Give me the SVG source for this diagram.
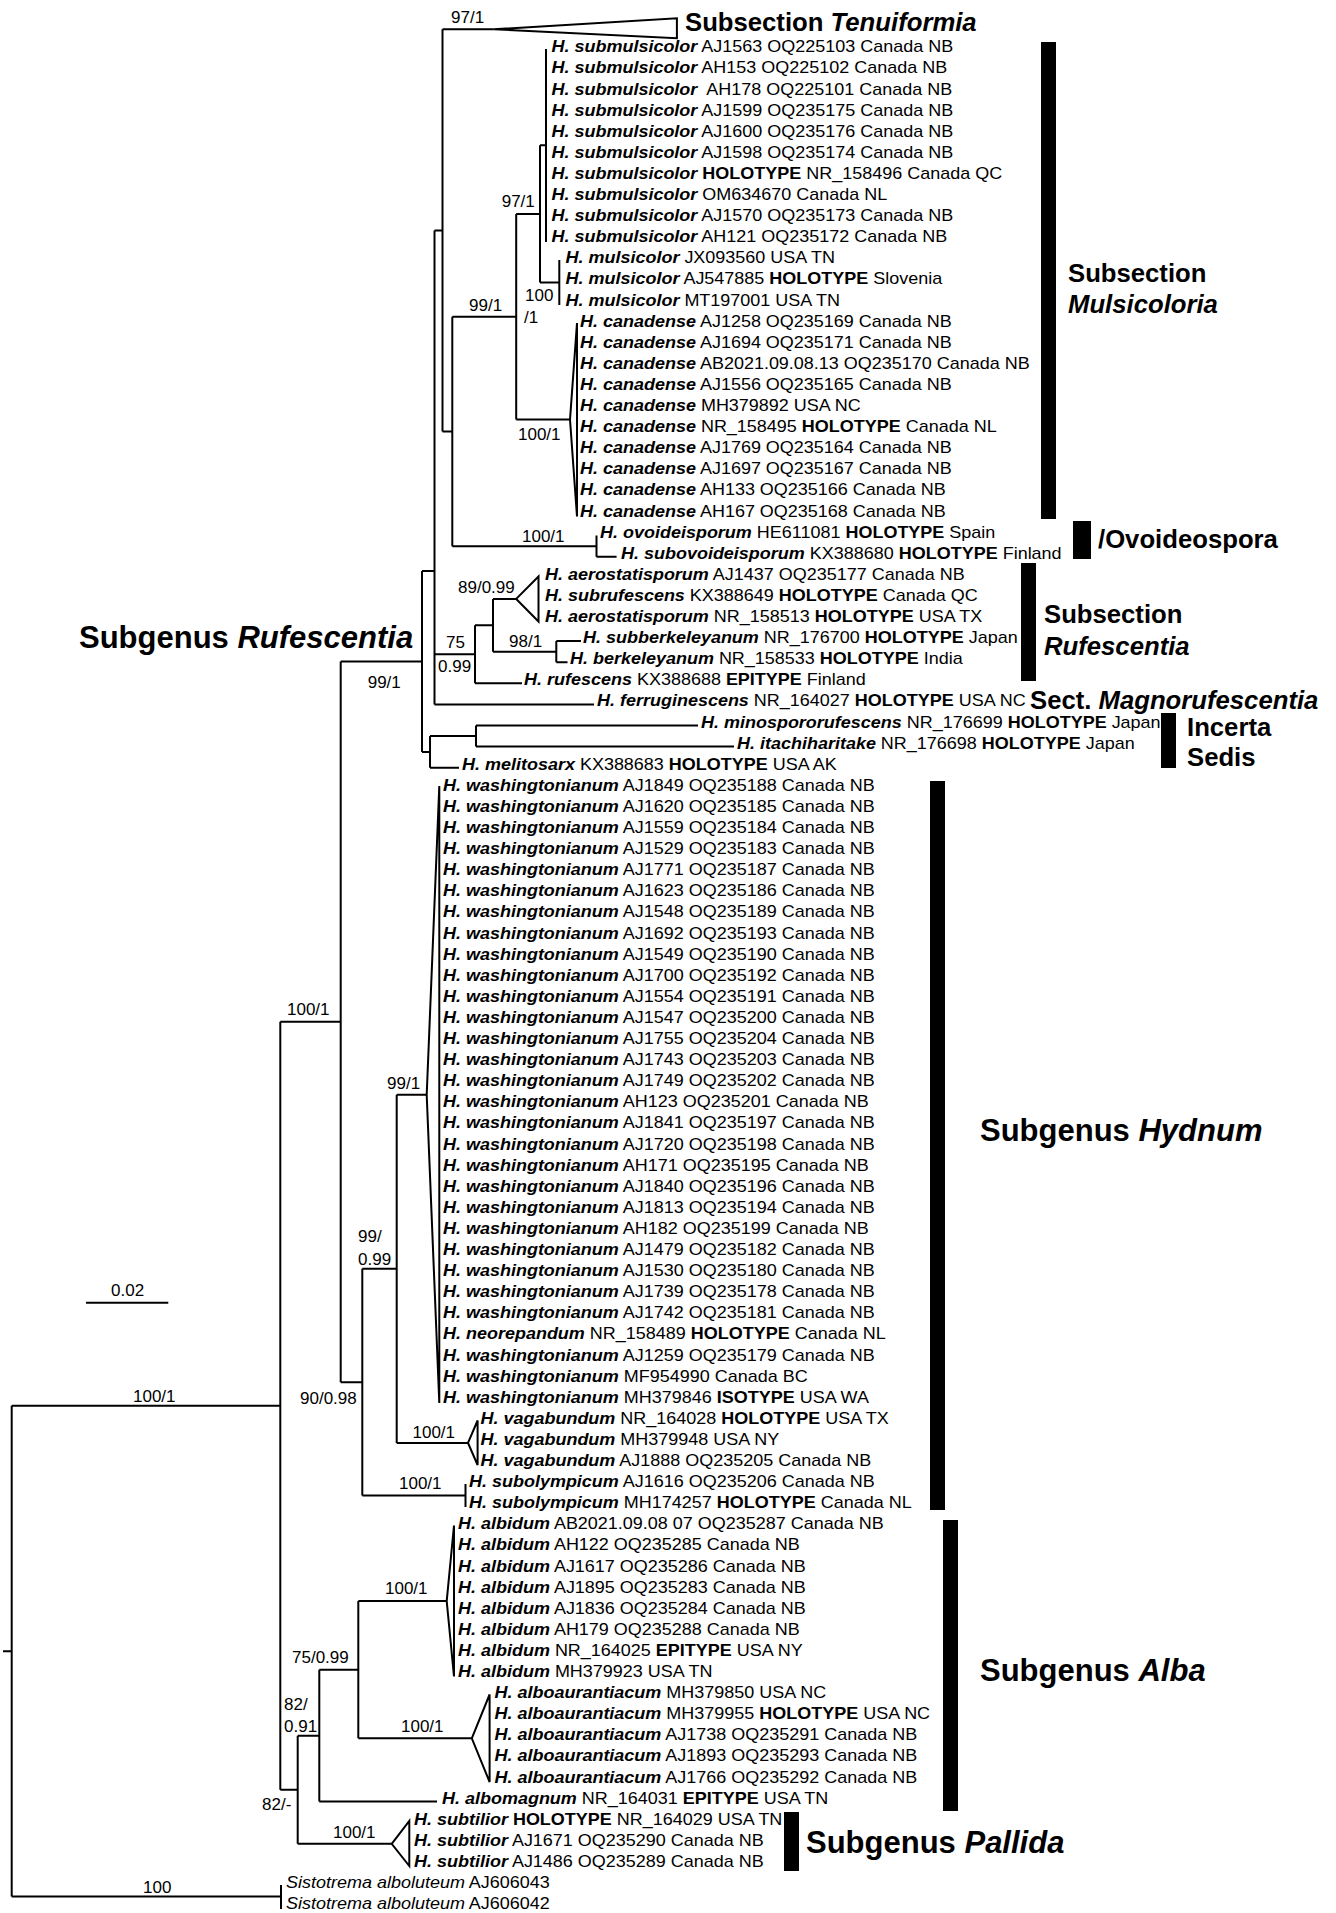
<svg xmlns="http://www.w3.org/2000/svg" width="1336" height="1913" viewBox="0 0 1336 1913">
<style>
text{font-family:"Liberation Sans",Arial,sans-serif;fill:#000}
.t{font-size:16.2px}
.b{font-weight:bold;font-style:italic}
.k{font-weight:bold}
.i{font-style:italic}
.s{font-size:17px}
.L{font-size:25.7px;font-weight:bold}
.G{font-size:31px;font-weight:bold}
.e path,.e polygon{stroke:#000;stroke-width:2;fill:none}
.e polygon{fill:#fff}
.bar{fill:#000}
</style>
<rect width="1336" height="1913" fill="#fff"/>
<g id="connectors" class="e">
<path d="M3,1651.2H11.7M11.7,1405.8V1896.5M11.7,1405.8H280.3M11.7,1896.5H281M281,1885V1909"/>
<path d="M280.3,1021.8V1789.8M280.3,1021.8H340.7M280.3,1789.8H297.7"/>
<path d="M340.7,661.4V1382.2M340.7,661.4H422M340.7,1382.2H362.3"/>
<path d="M422,571V751.9M422,571H434.5M422,751.9H430"/>
<path d="M434.5,230.4V704.4M434.5,230.4H442.5M434.5,654.3H475M434.5,704.4H594"/>
<path d="M442.5,29.3V431.5M442.5,29.3H493.8M442.5,431.5H452.3"/>
<polygon points="493.8,29.3 676.9,18.3 676.9,38.3"/>
<path d="M452.3,316.8V546.2M452.3,316.8H516.2M452.3,546.2H596.5M596.5,535.6V556.7M596.5,556.7H616.6"/>
<path d="M516.2,213.9V419.6M516.2,213.9H540M516.2,419.6H570"/>
<polygon points="570,419.6 577,323 577,516.5"/>
<path d="M540,145.3V282.4M540,145.3H546M540,282.4H559.3M546,49V242M559.3,260V305"/>
<path d="M475,625.3V683.3M475,625.3H493M475,683.3H522M493,598.9V651.7M493,598.9H516.2M493,651.7H556.3M556.3,641.1V662.2M556.3,641.1H581M556.3,662.2H567.5"/>
<polygon points="516.2,598.9 538.5,576.5 538.5,621.5"/>
<path d="M430,736V767.7M430,736H476M430,767.7H459M476,725.5V746.6M476,725.5H698M476,746.6H734"/>
<path d="M362.3,1268.8V1495.6M362.3,1268.8H396.7M362.3,1495.6H465.5M465.5,1484V1507"/>
<path d="M396.7,1094.75V1442.9M396.7,1094.75H426.7M396.7,1442.9H468"/>
<polygon points="426.7,1094.75 439.3,786 439.3,1403"/>
<polygon points="468,1442.9 477.6,1420.5 477.6,1465"/>
<path d="M297.7,1735.7V1843.8M297.7,1735.7H319.3M297.7,1843.8H391.7"/>
<polygon points="391.7,1843.8 409.3,1821 409.3,1866"/>
<path d="M319.3,1669.7V1801.6M319.3,1669.7H358.3M319.3,1801.6H437"/>
<path d="M358.3,1601.1V1738.3M358.3,1601.1H446.7M358.3,1738.3H471.8"/>
<polygon points="446.7,1601.1 454,1525.5 454,1676.5"/>
<polygon points="471.8,1738.3 489.6,1694.5 489.6,1782"/>
<path d="M86,1302.8H168.3"/>
</g>
<g id="support-values" class="s">
<text class="s" x="451" y="23">97/1</text>
<text class="s" x="501.7" y="207">97/1</text>
<text class="s" x="525" y="301">100</text>
<text class="s" x="524" y="323">/1</text>
<text class="s" x="469" y="311">99/1</text>
<text class="s" x="518" y="440">100/1</text>
<text class="s" x="522" y="542">100/1</text>
<text class="s" x="458" y="593">89/0.99</text>
<text class="s" x="446" y="648">75</text>
<text class="s" x="438" y="672">0.99</text>
<text class="s" x="509" y="647">98/1</text>
<text class="s" x="367.7" y="688">99/1</text>
<text class="s" x="287" y="1015">100/1</text>
<text class="s" x="387" y="1089">99/1</text>
<text class="s" x="358" y="1242">99/</text>
<text class="s" x="358" y="1265">0.99</text>
<text class="s" x="300" y="1404">90/0.98</text>
<text class="s" x="133" y="1402">100/1</text>
<text class="s" x="412.5" y="1438">100/1</text>
<text class="s" x="399" y="1489">100/1</text>
<text class="s" x="385" y="1594">100/1</text>
<text class="s" x="292" y="1663">75/0.99</text>
<text class="s" x="284" y="1710">82/</text>
<text class="s" x="284" y="1732">0.91</text>
<text class="s" x="401" y="1732">100/1</text>
<text class="s" x="262" y="1810">82/-</text>
<text class="s" x="333" y="1838">100/1</text>
<text class="s" x="143" y="1893">100</text>
<text class="s" x="111" y="1296">0.02</text>
</g>
<g id="clade-tenuiformia"><text class="L" x="685" y="31">Subsection <tspan font-style="italic">Tenuiformia</tspan></text></g>
<g id="clade-mulsicoloria">
<text id="n0" class="t" transform="translate(551.5 52.3) scale(1.11 1)"><tspan class="b">H. submulsicolor</tspan> AJ1563 OQ225103 Canada NB</text>
<text id="n1" class="t" transform="translate(551.5 73.4) scale(1.11 1)"><tspan class="b">H. submulsicolor</tspan> AH153 OQ225102 Canada NB</text>
<text id="n2" class="t" transform="translate(551.5 94.5) scale(1.11 1)"><tspan class="b">H. submulsicolor</tspan>&#160; AH178 OQ225101 Canada NB</text>
<text id="n3" class="t" transform="translate(551.5 115.6) scale(1.11 1)"><tspan class="b">H. submulsicolor</tspan> AJ1599 OQ235175 Canada NB</text>
<text id="n4" class="t" transform="translate(551.5 136.7) scale(1.11 1)"><tspan class="b">H. submulsicolor</tspan> AJ1600 OQ235176 Canada NB</text>
<text id="n5" class="t" transform="translate(551.5 157.8) scale(1.11 1)"><tspan class="b">H. submulsicolor</tspan> AJ1598 OQ235174 Canada NB</text>
<text id="n6" class="t" transform="translate(551.5 178.9) scale(1.11 1)"><tspan class="b">H. submulsicolor</tspan> <tspan class="k">HOLOTYPE</tspan> NR_158496 Canada QC</text>
<text id="n7" class="t" transform="translate(551.5 200) scale(1.11 1)"><tspan class="b">H. submulsicolor</tspan> OM634670 Canada NL</text>
<text id="n8" class="t" transform="translate(551.5 221.1) scale(1.11 1)"><tspan class="b">H. submulsicolor</tspan> AJ1570 OQ235173 Canada NB</text>
<text id="n9" class="t" transform="translate(551.5 242.2) scale(1.11 1)"><tspan class="b">H. submulsicolor</tspan> AH121 OQ235172 Canada NB</text>
<text id="n10" class="t" transform="translate(565.5 263.3) scale(1.11 1)"><tspan class="b">H. mulsicolor</tspan> JX093560 USA TN</text>
<text id="n11" class="t" transform="translate(565.5 284.4) scale(1.11 1)"><tspan class="b">H. mulsicolor</tspan> AJ547885 <tspan class="k">HOLOTYPE</tspan> Slovenia</text>
<text id="n12" class="t" transform="translate(565.5 305.5) scale(1.11 1)"><tspan class="b">H. mulsicolor</tspan> MT197001 USA TN</text>
<text id="n13" class="t" transform="translate(580 326.6) scale(1.11 1)"><tspan class="b">H. canadense</tspan> AJ1258 OQ235169 Canada NB</text>
<text id="n14" class="t" transform="translate(580 347.7) scale(1.11 1)"><tspan class="b">H. canadense</tspan> AJ1694 OQ235171 Canada NB</text>
<text id="n15" class="t" transform="translate(580 368.8) scale(1.11 1)"><tspan class="b">H. canadense</tspan> AB2021.09.08.13 OQ235170 Canada NB</text>
<text id="n16" class="t" transform="translate(580 389.9) scale(1.11 1)"><tspan class="b">H. canadense</tspan> AJ1556 OQ235165 Canada NB</text>
<text id="n17" class="t" transform="translate(580 411) scale(1.11 1)"><tspan class="b">H. canadense</tspan> MH379892 USA NC</text>
<text id="n18" class="t" transform="translate(580 432.1) scale(1.11 1)"><tspan class="b">H. canadense</tspan> NR_158495 <tspan class="k">HOLOTYPE</tspan> Canada NL</text>
<text id="n19" class="t" transform="translate(580 453.2) scale(1.11 1)"><tspan class="b">H. canadense</tspan> AJ1769 OQ235164 Canada NB</text>
<text id="n20" class="t" transform="translate(580 474.3) scale(1.11 1)"><tspan class="b">H. canadense</tspan> AJ1697 OQ235167 Canada NB</text>
<text id="n21" class="t" transform="translate(580 495.4) scale(1.11 1)"><tspan class="b">H. canadense</tspan> AH133 OQ235166 Canada NB</text>
<text id="n22" class="t" transform="translate(580 516.5) scale(1.11 1)"><tspan class="b">H. canadense</tspan> AH167 OQ235168 Canada NB</text>
<rect class="bar" x="1041" y="42" width="15" height="477"/>
<text class="L" x="1068" y="282">Subsection</text>
<text class="L" x="1068" y="313" font-style="italic">Mulsicoloria</text>
</g>
<g id="clade-ovoideospora">
<text id="n23" class="t" transform="translate(600 537.6) scale(1.11 1)"><tspan class="b">H. ovoideisporum</tspan> HE611081 <tspan class="k">HOLOTYPE</tspan> Spain</text>
<text id="n24" class="t" transform="translate(621 558.7) scale(1.11 1)"><tspan class="b">H. subovoideisporum</tspan> KX388680 <tspan class="k">HOLOTYPE</tspan> Finland</text>
<rect class="bar" x="1073" y="521" width="18" height="38"/>
<text class="L" x="1098" y="548">/Ovoideospora</text>
</g>
<g id="clade-rufescentia-subsection">
<text id="n25" class="t" transform="translate(545 579.8) scale(1.11 1)"><tspan class="b">H. aerostatisporum</tspan> AJ1437 OQ235177 Canada NB</text>
<text id="n26" class="t" transform="translate(545 600.9) scale(1.11 1)"><tspan class="b">H. subrufescens</tspan> KX388649 <tspan class="k">HOLOTYPE</tspan> Canada QC</text>
<text id="n27" class="t" transform="translate(545 622) scale(1.11 1)"><tspan class="b">H. aerostatisporum</tspan> NR_158513 <tspan class="k">HOLOTYPE</tspan> USA TX</text>
<text id="n28" class="t" transform="translate(583 643.1) scale(1.11 1)"><tspan class="b">H. subberkeleyanum</tspan> NR_176700 <tspan class="k">HOLOTYPE</tspan> Japan</text>
<text id="n29" class="t" transform="translate(570 664.2) scale(1.11 1)"><tspan class="b">H. berkeleyanum</tspan> NR_158533 <tspan class="k">HOLOTYPE</tspan> India</text>
<text id="n30" class="t" transform="translate(524 685.3) scale(1.11 1)"><tspan class="b">H. rufescens</tspan> KX388688 <tspan class="k">EPITYPE</tspan> Finland</text>
<rect class="bar" x="1021" y="563" width="15" height="118"/>
<text class="L" x="1044" y="623">Subsection</text>
<text class="L" x="1044" y="655" font-style="italic">Rufescentia</text>
</g>
<g id="clade-magnorufescentia">
<text id="n31" class="t" transform="translate(597 706.4) scale(1.11 1)"><tspan class="b">H. ferruginescens</tspan> NR_164027 <tspan class="k">HOLOTYPE</tspan> USA NC</text>
<text class="L" x="1030" y="709">Sect. <tspan font-style="italic">Magnorufescentia</tspan></text>
</g>
<g id="clade-incerta">
<text id="n32" class="t" transform="translate(701 727.5) scale(1.11 1)"><tspan class="b">H. minospororufescens</tspan> NR_176699 <tspan class="k">HOLOTYPE</tspan> Japan</text>
<text id="n33" class="t" transform="translate(737 748.6) scale(1.11 1)"><tspan class="b">H. itachiharitake</tspan> NR_176698 <tspan class="k">HOLOTYPE</tspan> Japan</text>
<rect class="bar" x="1161" y="713" width="15" height="55"/>
<text class="L" x="1187" y="736">Incerta</text>
<text class="L" x="1187" y="766">Sedis</text>
</g>
<g id="leaf-melitosarx">
<text id="n34" class="t" transform="translate(462 769.7) scale(1.11 1)"><tspan class="b">H. melitosarx</tspan> KX388683 <tspan class="k">HOLOTYPE</tspan> USA AK</text>
</g>
<g id="label-rufescentia"><text class="G" x="79" y="648">Subgenus <tspan font-style="italic">Rufescentia</tspan></text></g>
<g id="clade-hydnum">
<text id="n35" class="t" transform="translate(443 790.8) scale(1.11 1)"><tspan class="b">H. washingtonianum</tspan> AJ1849 OQ235188 Canada NB</text>
<text id="n36" class="t" transform="translate(443 811.9) scale(1.11 1)"><tspan class="b">H. washingtonianum</tspan> AJ1620 OQ235185 Canada NB</text>
<text id="n37" class="t" transform="translate(443 833) scale(1.11 1)"><tspan class="b">H. washingtonianum</tspan> AJ1559 OQ235184 Canada NB</text>
<text id="n38" class="t" transform="translate(443 854.1) scale(1.11 1)"><tspan class="b">H. washingtonianum</tspan> AJ1529 OQ235183 Canada NB</text>
<text id="n39" class="t" transform="translate(443 875.2) scale(1.11 1)"><tspan class="b">H. washingtonianum</tspan> AJ1771 OQ235187 Canada NB</text>
<text id="n40" class="t" transform="translate(443 896.3) scale(1.11 1)"><tspan class="b">H. washingtonianum</tspan> AJ1623 OQ235186 Canada NB</text>
<text id="n41" class="t" transform="translate(443 917.4) scale(1.11 1)"><tspan class="b">H. washingtonianum</tspan> AJ1548 OQ235189 Canada NB</text>
<text id="n42" class="t" transform="translate(443 938.5) scale(1.11 1)"><tspan class="b">H. washingtonianum</tspan> AJ1692 OQ235193 Canada NB</text>
<text id="n43" class="t" transform="translate(443 959.6) scale(1.11 1)"><tspan class="b">H. washingtonianum</tspan> AJ1549 OQ235190 Canada NB</text>
<text id="n44" class="t" transform="translate(443 980.7) scale(1.11 1)"><tspan class="b">H. washingtonianum</tspan> AJ1700 OQ235192 Canada NB</text>
<text id="n45" class="t" transform="translate(443 1001.8) scale(1.11 1)"><tspan class="b">H. washingtonianum</tspan> AJ1554 OQ235191 Canada NB</text>
<text id="n46" class="t" transform="translate(443 1022.9) scale(1.11 1)"><tspan class="b">H. washingtonianum</tspan> AJ1547 OQ235200 Canada NB</text>
<text id="n47" class="t" transform="translate(443 1044) scale(1.11 1)"><tspan class="b">H. washingtonianum</tspan> AJ1755 OQ235204 Canada NB</text>
<text id="n48" class="t" transform="translate(443 1065.1) scale(1.11 1)"><tspan class="b">H. washingtonianum</tspan> AJ1743 OQ235203 Canada NB</text>
<text id="n49" class="t" transform="translate(443 1086.2) scale(1.11 1)"><tspan class="b">H. washingtonianum</tspan> AJ1749 OQ235202 Canada NB</text>
<text id="n50" class="t" transform="translate(443 1107.3) scale(1.11 1)"><tspan class="b">H. washingtonianum</tspan> AH123 OQ235201 Canada NB</text>
<text id="n51" class="t" transform="translate(443 1128.4) scale(1.11 1)"><tspan class="b">H. washingtonianum</tspan> AJ1841 OQ235197 Canada NB</text>
<text id="n52" class="t" transform="translate(443 1149.5) scale(1.11 1)"><tspan class="b">H. washingtonianum</tspan> AJ1720 OQ235198 Canada NB</text>
<text id="n53" class="t" transform="translate(443 1170.6) scale(1.11 1)"><tspan class="b">H. washingtonianum</tspan> AH171 OQ235195 Canada NB</text>
<text id="n54" class="t" transform="translate(443 1191.7) scale(1.11 1)"><tspan class="b">H. washingtonianum</tspan> AJ1840 OQ235196 Canada NB</text>
<text id="n55" class="t" transform="translate(443 1212.8) scale(1.11 1)"><tspan class="b">H. washingtonianum</tspan> AJ1813 OQ235194 Canada NB</text>
<text id="n56" class="t" transform="translate(443 1233.9) scale(1.11 1)"><tspan class="b">H. washingtonianum</tspan> AH182 OQ235199 Canada NB</text>
<text id="n57" class="t" transform="translate(443 1255) scale(1.11 1)"><tspan class="b">H. washingtonianum</tspan> AJ1479 OQ235182 Canada NB</text>
<text id="n58" class="t" transform="translate(443 1276.1) scale(1.11 1)"><tspan class="b">H. washingtonianum</tspan> AJ1530 OQ235180 Canada NB</text>
<text id="n59" class="t" transform="translate(443 1297.2) scale(1.11 1)"><tspan class="b">H. washingtonianum</tspan> AJ1739 OQ235178 Canada NB</text>
<text id="n60" class="t" transform="translate(443 1318.3) scale(1.11 1)"><tspan class="b">H. washingtonianum</tspan> AJ1742 OQ235181 Canada NB</text>
<text id="n61" class="t" transform="translate(443 1339.4) scale(1.11 1)"><tspan class="b">H. neorepandum</tspan> NR_158489 <tspan class="k">HOLOTYPE</tspan> Canada NL</text>
<text id="n62" class="t" transform="translate(443 1360.5) scale(1.11 1)"><tspan class="b">H. washingtonianum</tspan> AJ1259 OQ235179 Canada NB</text>
<text id="n63" class="t" transform="translate(443 1381.6) scale(1.11 1)"><tspan class="b">H. washingtonianum</tspan> MF954990 Canada BC</text>
<text id="n64" class="t" transform="translate(443 1402.7) scale(1.11 1)"><tspan class="b">H. washingtonianum</tspan> MH379846 <tspan class="k">ISOTYPE</tspan> USA WA</text>
<text id="n65" class="t" transform="translate(480.5 1423.8) scale(1.11 1)"><tspan class="b">H. vagabundum</tspan> NR_164028 <tspan class="k">HOLOTYPE</tspan> USA TX</text>
<text id="n66" class="t" transform="translate(480.5 1444.9) scale(1.11 1)"><tspan class="b">H. vagabundum</tspan> MH379948 USA NY</text>
<text id="n67" class="t" transform="translate(480.5 1466) scale(1.11 1)"><tspan class="b">H. vagabundum</tspan> AJ1888 OQ235205 Canada NB</text>
<text id="n68" class="t" transform="translate(469 1487.1) scale(1.11 1)"><tspan class="b">H. subolympicum</tspan> AJ1616 OQ235206 Canada NB</text>
<text id="n69" class="t" transform="translate(469 1508.2) scale(1.11 1)"><tspan class="b">H. subolympicum</tspan> MH174257 <tspan class="k">HOLOTYPE</tspan> Canada NL</text>
<rect class="bar" x="930" y="781" width="15" height="729"/>
<text class="G" x="980" y="1141">Subgenus <tspan font-style="italic">Hydnum</tspan></text>
</g>
<g id="clade-alba">
<text id="n70" class="t" transform="translate(458 1529.3) scale(1.11 1)"><tspan class="b">H. albidum</tspan> AB2021.09.08 07 OQ235287 Canada NB</text>
<text id="n71" class="t" transform="translate(458 1550.4) scale(1.11 1)"><tspan class="b">H. albidum</tspan> AH122 OQ235285 Canada NB</text>
<text id="n72" class="t" transform="translate(458 1571.5) scale(1.11 1)"><tspan class="b">H. albidum</tspan> AJ1617 OQ235286 Canada NB</text>
<text id="n73" class="t" transform="translate(458 1592.6) scale(1.11 1)"><tspan class="b">H. albidum</tspan> AJ1895 OQ235283 Canada NB</text>
<text id="n74" class="t" transform="translate(458 1613.7) scale(1.11 1)"><tspan class="b">H. albidum</tspan> AJ1836 OQ235284 Canada NB</text>
<text id="n75" class="t" transform="translate(458 1634.8) scale(1.11 1)"><tspan class="b">H. albidum</tspan> AH179 OQ235288 Canada NB</text>
<text id="n76" class="t" transform="translate(458 1655.9) scale(1.11 1)"><tspan class="b">H. albidum</tspan> NR_164025 <tspan class="k">EPITYPE</tspan> USA NY</text>
<text id="n77" class="t" transform="translate(458 1677) scale(1.11 1)"><tspan class="b">H. albidum</tspan> MH379923 USA TN</text>
<text id="n78" class="t" transform="translate(494.5 1698.1) scale(1.11 1)"><tspan class="b">H. alboaurantiacum</tspan> MH379850 USA NC</text>
<text id="n79" class="t" transform="translate(494.5 1719.2) scale(1.11 1)"><tspan class="b">H. alboaurantiacum</tspan> MH379955 <tspan class="k">HOLOTYPE</tspan> USA NC</text>
<text id="n80" class="t" transform="translate(494.5 1740.3) scale(1.11 1)"><tspan class="b">H. alboaurantiacum</tspan> AJ1738 OQ235291 Canada NB</text>
<text id="n81" class="t" transform="translate(494.5 1761.4) scale(1.11 1)"><tspan class="b">H. alboaurantiacum</tspan> AJ1893 OQ235293 Canada NB</text>
<text id="n82" class="t" transform="translate(494.5 1782.5) scale(1.11 1)"><tspan class="b">H. alboaurantiacum</tspan> AJ1766 OQ235292 Canada NB</text>
<text id="n83" class="t" transform="translate(442 1803.6) scale(1.11 1)"><tspan class="b">H. albomagnum</tspan> NR_164031 <tspan class="k">EPITYPE</tspan> USA TN</text>
<rect class="bar" x="943" y="1520" width="15" height="291"/>
<text class="G" x="980" y="1681">Subgenus <tspan font-style="italic">Alba</tspan></text>
</g>
<g id="clade-pallida">
<text id="n84" class="t" transform="translate(414 1824.7) scale(1.11 1)"><tspan class="b">H. subtilior</tspan> <tspan class="k">HOLOTYPE</tspan> NR_164029 USA TN</text>
<text id="n85" class="t" transform="translate(414 1845.8) scale(1.11 1)"><tspan class="b">H. subtilior</tspan> AJ1671 OQ235290 Canada NB</text>
<text id="n86" class="t" transform="translate(414 1866.9) scale(1.11 1)"><tspan class="b">H. subtilior</tspan> AJ1486 OQ235289 Canada NB</text>
<rect class="bar" x="784" y="1812" width="15" height="59"/>
<text class="G" x="806" y="1853">Subgenus <tspan font-style="italic">Pallida</tspan></text>
</g>
<g id="outgroup">
<text id="n87" class="t" transform="translate(286 1888) scale(1.11 1)"><tspan class="i">Sistotrema alboluteum</tspan> AJ606043</text>
<text id="n88" class="t" transform="translate(286 1909.1) scale(1.11 1)"><tspan class="i">Sistotrema alboluteum</tspan> AJ606042</text>
</g>
</svg>
